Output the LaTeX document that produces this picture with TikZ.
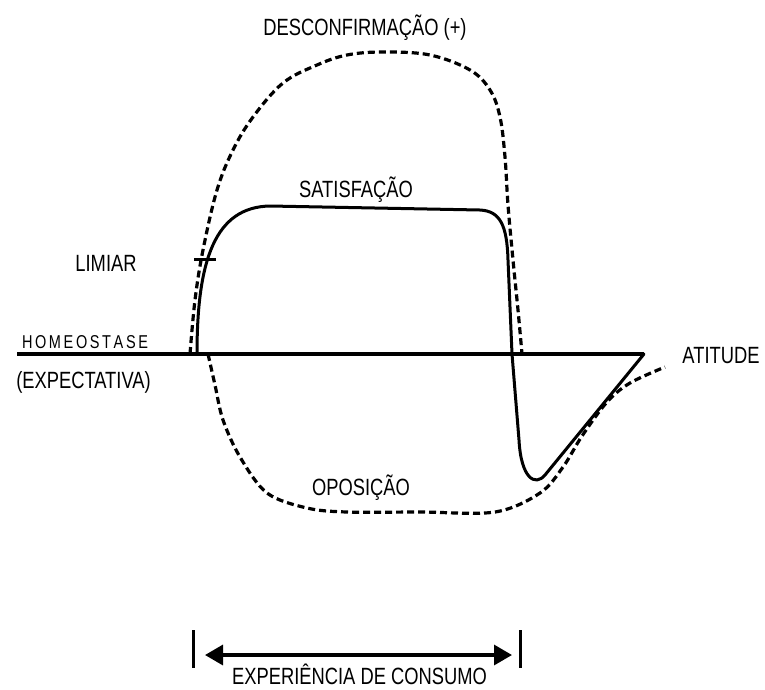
\documentclass[tikz,border=0pt]{standalone}
\usepackage{fontspec}
\setmainfont{Liberation Sans}[FakeStretch=0.78]
\usetikzlibrary{arrows.meta}
\begin{document}
\begin{tikzpicture}[x=1pt,y=-1pt,
  lbl/.style={inner sep=0pt, font=\fontsize{23.5}{26}\selectfont, anchor=base},
  solidline/.style={line width=3pt, line join=round, line cap=round},
  dashline/.style={line width=3.2pt, dash pattern=on 7pt off 4pt},
  tickline/.style={line width=3pt},
]
\useasboundingbox (0,0) rectangle (765,689);

% labels
\node[lbl] (desc) at (365,35) {DESCONFIRMAÇÃO (+)};
\node[lbl] (sat) at (356,197) {SATISFAÇÃO};
\node[lbl] (lim) at (106,271) {LIMIAR};
\node[lbl, font=\fontsize{18.6}{20}\selectfont] (homeo) at (85,348)
  {\makebox[126pt][s]{H\hfil O\hfil M\hfil E\hfil O\hfil S\hfil T\hfil A\hfil S\hfil E}};
\node[lbl] (expect) at (83.5,388) {(EXPECTATIVA)};
\node[lbl] (atit) at (721,363) {ATITUDE};
\node[lbl] (opos) at (361,495) {OPOSIÇÃO};
\node[lbl] (exper) at (359.5,684) {EXPERIÊNCIA DE CONSUMO};

% homeostase line
\coordinate (hL) at (17,354);
\coordinate (hR) at (644,354);
\draw[line width=3.5pt] (hL) -- (hR);

% satisfaction curve
\draw[solidline] (197,354) .. controls (197,260) and (215,207) .. (270,206)
  -- (480,210) .. controls (500,211) and (507,225) .. (508,260)
  -- (512,354) -- (519,440) .. controls (521,478) and (535,487) .. (545,475)
  -- (hR);

% limiar tick
\coordinate (limL) at (194,259);
\coordinate (limR) at (216,259);
\draw[solidline, line cap=butt] (limL) -- (limR);

% upper dashed (desconfirmacao)
\draw[dashline] plot[smooth, tension=0.6] coordinates {
  (190,354) (195,300) (203,250) (217,190) (233,150) (253,117) (283,83)
  (317,65) (347,55) (383,52) (430,55) (470,70) (490,90) (500,117)
  (505,157) (508,205) (513,260) (518,310) (522,354)};

% lower dashed (oposicao)
\draw[dashline] plot[smooth, tension=0.55] coordinates {
  (208,354) (215,385) (223,420) (240,457) (267,493) (307,508) (347,512)
  (420,512) (495,512) (540,493) (563,467) (582,436) (607,402) (630,383)
  (665,367)};

% experiencia de consumo
\coordinate (t1a) at (193,630); \coordinate (t1b) at (193,668);
\coordinate (t2a) at (520,630); \coordinate (t2b) at (520,668);
\coordinate (aL) at (205,655); \coordinate (aR) at (512,655);
\draw[tickline] (t1a) -- (t1b);
\draw[tickline] (t2a) -- (t2b);
\draw[line width=3.3pt, {Triangle[length=18pt,width=20pt]}-{Triangle[length=18pt,width=20pt]}] (aL) -- (aR);
\end{tikzpicture}
\end{document}
